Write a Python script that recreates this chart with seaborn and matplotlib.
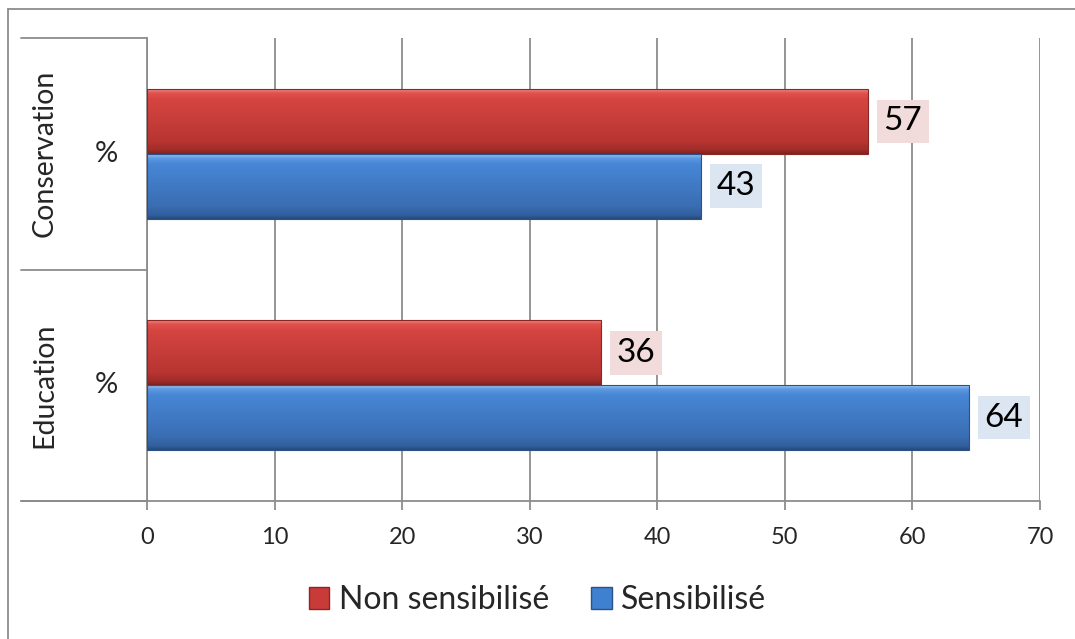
import numpy as np
import pandas as pd
import seaborn as sns
import matplotlib.pyplot as plt
import matplotlib.transforms as mtransforms
from matplotlib.colors import to_rgb
from matplotlib.lines import Line2D
from matplotlib.patches import Patch

# donnees
categories = ['Conservation', 'Education']
unites = ['%', '%']
groupes = ['Non sensibilisé', 'Sensibilisé']
non_sensibilise = [56.5, 35.6]
sensibilise = [43.4, 64.4]
etiquettes_non = ['57', '36']
etiquettes_sens = ['43', '64']
graduations = [0, 10, 20, 30, 40, 50, 60, 70]

base = pd.DataFrame({
    'categorie': categories * 2,
    'groupe': [groupes[0]] * 2 + [groupes[1]] * 2,
    'valeur': non_sensibilise + sensibilise,
})

sns.set_style('white')
plt.rcParams['font.family'] = ['Lato', 'DejaVu Sans']

gris = '#8c8c8c'
rouge = '#c83b38'
bleu = '#4080d0'

fig = plt.figure(figsize=(10.75, 6.39), dpi=100)
ax = fig.add_axes([147 / 1075, 1 - 501 / 639, 893 / 1075, 463 / 639])

sns.barplot(data=base, y='categorie', x='valeur', hue='groupe', order=categories,
            hue_order=groupes, palette=[rouge, bleu], width=0.56, orient='h',
            saturation=1, legend=False, ax=ax)


def degrade(stops):
    pos = np.linspace(0, 1, 200)
    p = [s[0] for s in stops]
    cols = np.array([to_rgb(s[1]) for s in stops])
    arr = np.stack([np.interp(pos, p, cols[:, k]) for k in range(3)], axis=1)
    return arr[:, None, :]


grad_rouge = degrade([(0, '#ee8a86'), (0.06, '#e0524e'), (0.15, '#d64541'),
                      (0.8, '#b83532'), (0.94, '#a02c29'), (1, '#7e2220')])
grad_bleu = degrade([(0, '#9cc8f5'), (0.06, '#5e9ae2'), (0.15, '#4787d6'),
                     (0.8, '#3a6db3'), (0.94, '#325f9c'), (1, '#254a7c')])
bords = ['#8a2624', '#2b5187']
fonds = ['#f2dcdb', '#dce6f2']
etiquettes = [etiquettes_non, etiquettes_sens]

for conteneur, grad, bord, fond, labs in zip(ax.containers, [grad_rouge, grad_bleu],
                                              bords, fonds, etiquettes):
    for barre, lab in zip(conteneur, labs):
        x0, y0 = barre.get_x(), barre.get_y()
        w, h = barre.get_width(), barre.get_height()
        img = ax.imshow(grad, extent=(x0, x0 + w, y0 + h, y0), origin='upper',
                        aspect='auto', interpolation='bilinear', zorder=2)
        img.set_clip_path(barre)
        barre.set_facecolor('none')
        barre.set_edgecolor(bord)
        barre.set_linewidth(0.8)
        barre.set_zorder(3)
        ax.text(x0 + w + 2.75, y0 + h / 2, lab, ha='center', va='center',
                fontsize=24, color='black', zorder=4,
                bbox=dict(boxstyle='square,pad=0.2', fc=fond, ec='none'))

ax.set_xlim(0, 70)
ax.set_ylim(1.5, -0.5)
ax.set_xticks(graduations)
ax.set_xticklabels([str(g) for g in graduations], fontsize=17)
ax.set_yticks([])
ax.set_xlabel('')
ax.set_ylabel('')
ax.set_axisbelow(True)
ax.xaxis.grid(True, color=gris, linewidth=1.3)
ax.tick_params(axis='x', length=6.5, width=1.3, color=gris, pad=12, bottom=True)
for cote in ['top', 'right', 'bottom']:
    ax.spines[cote].set_visible(False)
ax.spines['left'].set_color(gris)
ax.spines['left'].set_linewidth(1.3)

# axe des categories a deux niveaux
tr = mtransforms.blended_transform_factory(ax.transAxes, ax.transData)
for yy in [-0.5, 0.5, 1.5]:
    ax.add_line(Line2D([-0.141, 0], [yy, yy], transform=tr, color=gris,
                       linewidth=1.3, clip_on=False))
ax.add_line(Line2D([-0.141, 1], [0, 0], transform=ax.transAxes, color=gris,
                   linewidth=1.3, clip_on=False))
for i, (cat, u) in enumerate(zip(categories, unites)):
    ax.text(-0.115, i, cat, rotation=90, ha='center', va='center',
            fontsize=20.5, transform=tr)
    ax.text(-0.046, i, u, ha='center', va='center', fontsize=21, transform=tr)

# cadre du graphique
fig.add_artist(Line2D([8 / 1075, 1], [1 - 9 / 639] * 2, transform=fig.transFigure,
                      color=gris, linewidth=1.3))
fig.add_artist(Line2D([8 / 1075] * 2, [0, 1 - 9 / 639], transform=fig.transFigure,
                      color=gris, linewidth=1.3))

poignees = [Patch(facecolor=rouge, edgecolor=bords[0]),
            Patch(facecolor=bleu, edgecolor=bords[1])]
fig.legend(poignees, groupes, loc='center', bbox_to_anchor=(0.5, 0.061), ncol=2,
           frameon=False, fontsize=23, handlelength=0.65, handleheight=0.7,
           handletextpad=0.3, columnspacing=1.3)

fig.savefig('out.png', dpi=100)
